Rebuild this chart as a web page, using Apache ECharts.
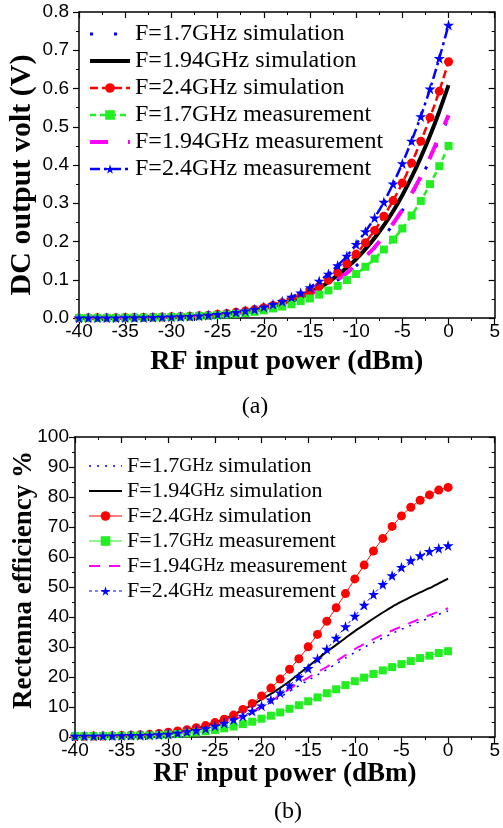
<!DOCTYPE html>
<html><head><meta charset="utf-8">
<script src="https://cdn.jsdelivr.net/npm/echarts@6/dist/echarts.min.js"></script>
<style>html,body{margin:0;padding:0;background:#fff}#c{width:503px;height:828px}</style>
</head><body><div id="c"></div><script>
// RF input power (dBm), shared by both panels
const power = [-40,-39,-38,-37,-36,-35,-34,-33,-32,-31,-30,-29,-28,-27,-26,-25,-24,-23,-22,-21,-20,-19,-18,-17,-16,-15,-14,-13,-12,-11,-10,-9,-8,-7,-6,-5,-4,-3,-2,-1,0];
const xTicks = [-40,-35,-30,-25,-20,-15,-10,-5,0,5];
const seriesNames = ['F=1.7GHz simulation','F=1.94GHz simulation','F=2.4GHz simulation','F=1.7GHz measurement','F=1.94GHz measurement','F=2.4GHz measurement'];

// (a) DC output voltage (V)
const voltSim17  = [0.0003,0.0004,0.0005,0.0006,0.0008,0.001,0.0012,0.0015,0.0019,0.0023,0.0028,0.0034,0.0042,0.0052,0.0064,0.0079,0.0098,0.012,0.015,0.02,0.025,0.030,0.036,0.043,0.051,0.061,0.071,0.084,0.099,0.116,0.136,0.158,0.183,0.212,0.245,0.281,0.322,0.366,0.414,0.468,0.525];
const voltSim194 = [0.0003,0.0004,0.0005,0.0006,0.0008,0.001,0.0013,0.0016,0.002,0.0024,0.0029,0.0036,0.0045,0.0056,0.007,0.009,0.011,0.014,0.017,0.021,0.026,0.032,0.039,0.047,0.056,0.067,0.079,0.094,0.112,0.132,0.154,0.180,0.209,0.242,0.279,0.321,0.368,0.420,0.477,0.540,0.609];
const voltSim24  = [0.0003,0.0004,0.0005,0.0006,0.0008,0.001,0.0013,0.0016,0.002,0.0025,0.003,0.0038,0.0047,0.006,0.0075,0.0095,0.012,0.015,0.018,0.022,0.027,0.033,0.040,0.048,0.058,0.070,0.083,0.099,0.119,0.142,0.167,0.197,0.229,0.266,0.307,0.353,0.405,0.462,0.524,0.593,0.670];
const voltMeas17 = [0.0002,0.0003,0.0004,0.0005,0.0006,0.0008,0.001,0.0012,0.0015,0.002,0.0026,0.0032,0.004,0.005,0.006,0.0075,0.009,0.011,0.013,0.016,0.020,0.025,0.030,0.036,0.044,0.051,0.061,0.072,0.084,0.099,0.115,0.134,0.155,0.179,0.205,0.234,0.268,0.306,0.350,0.397,0.450];
const voltMeas194= [0.0003,0.0004,0.0005,0.0006,0.0008,0.001,0.0012,0.0015,0.0019,0.0024,0.003,0.0035,0.0045,0.0055,0.007,0.009,0.011,0.014,0.017,0.021,0.026,0.031,0.037,0.044,0.052,0.062,0.073,0.086,0.101,0.118,0.138,0.160,0.185,0.215,0.247,0.283,0.325,0.370,0.420,0.475,0.530];
const voltMeas24 = [0.0003,0.0004,0.0005,0.0006,0.0008,0.001,0.0012,0.0015,0.0019,0.0024,0.003,0.0037,0.0047,0.006,0.0075,0.0095,0.012,0.015,0.019,0.023,0.029,0.036,0.044,0.055,0.066,0.080,0.097,0.115,0.137,0.162,0.193,0.226,0.262,0.303,0.351,0.404,0.463,0.527,0.599,0.679,0.766];
const voltTicks = [0,0.1,0.2,0.3,0.4,0.5,0.6,0.7,0.8];

// (b) Rectenna efficiency (%)
const effSim17  = [0.2,0.22,0.25,0.28,0.32,0.37,0.43,0.5,0.6,0.75,1.0,1.3,1.7,2.2,2.8,3.5,4.4,5.4,6.7,8.1,9.7,11.4,13.3,15.2,17.1,18.9,20.7,22.5,24.4,26.3,28.2,29.9,31.5,33.0,34.5,35.9,37.2,38.5,39.7,40.9,42.0];
const effSim194 = [0.2,0.23,0.27,0.32,0.38,0.45,0.55,0.7,0.9,1.1,1.4,1.8,2.3,3.0,3.8,4.8,6.0,7.4,9.0,10.7,12.5,14.4,16.4,18.6,21.0,23.5,26.0,28.4,30.7,33.0,35.3,37.4,39.5,41.5,43.4,45.1,46.7,48.2,49.6,51.2,52.8];
const effSim24  = [0.2,0.25,0.3,0.35,0.42,0.5,0.6,0.75,0.95,1.2,1.6,2.0,2.4,3.1,3.8,4.8,5.9,7.3,9.2,11.2,13.7,16.3,19.3,22.6,26.1,30.1,34.2,38.6,43.1,47.8,52.7,57.3,62.0,66.2,70.2,73.7,76.6,78.9,80.7,82.3,83.2];
const effMeas17 = [0.3,0.3,0.32,0.34,0.37,0.4,0.45,0.5,0.55,0.65,0.8,1.0,1.2,1.5,1.9,2.3,2.9,3.5,4.3,5.1,6.1,7.1,8.2,9.4,10.6,11.9,13.2,14.6,15.9,17.3,18.6,19.8,21.0,22.2,23.3,24.3,25.3,26.3,27.1,28.0,28.6];
const effMeas194= [0.2,0.23,0.27,0.31,0.36,0.42,0.5,0.6,0.75,0.9,1.1,1.4,1.8,2.3,2.9,3.7,4.6,5.7,7.0,8.5,10.2,12.0,14.0,16.0,18.0,19.8,21.6,23.4,25.3,27.3,29.3,31.0,32.6,34.1,35.5,36.8,38.1,39.4,40.6,41.8,42.9];
const effMeas24 = [0.3,0.32,0.35,0.4,0.45,0.5,0.55,0.6,0.7,0.8,1.0,1.35,1.8,2.25,2.85,3.7,4.65,5.85,7.0,8.65,10.45,12.45,14.75,17.2,20.0,22.9,26.1,29.3,33.0,36.8,40.3,44.0,47.6,50.9,53.8,56.6,58.8,60.5,61.9,62.9,63.8];
const effTicks = [0,10,20,30,40,50,60,70,80,90,100];

const STAR = 'path://M50,0 L61,35 L98,35 L68,57 L79,91 L50,70 L21,91 L32,57 L2,35 L39,35 Z';
const pair = arr => power.map((p,i)=>[p,arr[i]]);
const SANS = '"Liberation Sans", Arial, sans-serif';
const SERIF = '"Liberation Serif", "Times New Roman", serif';

function xAxes(grid, nameGap, nameSize) {
  return [
    {type:'value', gridIndex:grid, min:xTicks[0], max:xTicks[xTicks.length-1], interval:5,
     axisLine:{onZero:false, lineStyle:{color:'#000', width:1.5}},
     axisTick:{length:6, lineStyle:{color:'#000', width:1.2}},
     minorTick:{show:true, splitNumber:2, length:3, lineStyle:{color:'#000', width:1}},
     splitLine:{show:false},
     axisLabel:{color:'#000', fontFamily:SANS, fontSize:19, margin:4},
     name:'RF input power (dBm)', nameLocation:'middle', nameGap:nameGap,
     nameTextStyle:{color:'#000', fontFamily:SERIF, fontWeight:'bold', fontSize:nameSize}},
    {type:'value', gridIndex:grid, position:'top', min:xTicks[0], max:xTicks[xTicks.length-1], interval:5,
     axisLine:{onZero:false, lineStyle:{color:'#000', width:1.5}},
     axisTick:{inside:true, length:6, lineStyle:{color:'#000', width:1.2}},
     minorTick:{show:true, splitNumber:2, length:3, lineStyle:{color:'#000', width:1}},
     splitLine:{show:false}, axisLabel:{show:false}}
  ];
}
function yAxes(grid, ticks, fmt, margin) {
  const mn = ticks[0], mx = ticks[ticks.length-1], iv = ticks[1]-ticks[0];
  return [
    {type:'value', gridIndex:grid, min:mn, max:mx, interval:iv,
     axisLine:{show:true, onZero:false, lineStyle:{color:'#000', width:1.5}},
     axisTick:{show:true, length:6, lineStyle:{color:'#000', width:1.2}},
     minorTick:{show:true, splitNumber:2, length:3, lineStyle:{color:'#000', width:1}},
     splitLine:{show:false},
     axisLabel:{color:'#000', fontFamily:SANS, fontSize:19, margin:margin, formatter:fmt}},
    {type:'value', gridIndex:grid, position:'right', min:mn, max:mx, interval:iv,
     axisLine:{show:true, onZero:false, lineStyle:{color:'#000', width:1.5}},
     axisTick:{show:true, inside:true, length:6, lineStyle:{color:'#000', width:1.2}},
     minorTick:{show:true, splitNumber:2, length:3, lineStyle:{color:'#000', width:1}},
     splitLine:{show:false}, axisLabel:{show:false}}
  ];
}

function line(name, xi, yi, data, color, width, dash, symbol, symSize) {
  return {
    name:name, type:'line', xAxisIndex:xi, yAxisIndex:yi, data:pair(data),
    smooth:0.2, animation:false,
    symbol: symbol || 'circle', symbolSize: symSize || 1, showSymbol: !!symbol,
    lineStyle:{color:color, width:width, type:dash},
    itemStyle: symbol ? {color:color, borderWidth:0} : {color:'rgba(0,0,0,0)', borderWidth:0}
  };
}

const topNames = seriesNames;
const botNames = seriesNames.map(n => n + ' ');

const series = [
  line(topNames[0],0,0,voltSim17,'#0000ff',3,[3,21]),
  line(topNames[1],0,0,voltSim194,'#000000',4,'solid'),
  line(topNames[2],0,0,voltSim24,'#ff0000',2.5,[8,4],'circle',9),
  line(topNames[3],0,0,voltMeas17,'#22ee22',2.5,[6,4],'rect',8),
  line(topNames[4],0,0,voltMeas194,'#ff00ff',4,[18,20]),
  line(topNames[5],0,0,voltMeas24,'#0000ff',2.5,[10,4,3,4],STAR,11),

  line(botNames[0],2,2,effSim17,'#0000ff',1.5,[2,6]),
  line(botNames[1],2,2,effSim194,'#000000',2,'solid'),
  line(botNames[2],2,2,effSim24,'#ff0000',1,'solid','circle',9),
  line(botNames[3],2,2,effMeas17,'#22ee22',1,'solid','rect',8),
  line(botNames[4],2,2,effMeas194,'#ff00ff',2,[11,9]),
  line(botNames[5],2,2,effMeas24,'#0000ff',1,[3,3],STAR,11)
];

const option = {
  backgroundColor:'#fff',
  animation:false,
  grid:[
    {left:79, right:6, top:12, height:306},
    {left:75, right:2, top:437, height:300}
  ],
  xAxis:[...xAxes(0,30,28), ...xAxes(1,18,27)],
  yAxis:[...yAxes(0,voltTicks,v=>v.toFixed(1),10), ...yAxes(1,effTicks,v=>String(v),6)],
  legend:[
    {data:topNames, orient:'vertical', left:83, top:17, itemWidth:40, itemHeight:12, itemGap:3,
     selectedMode:false, lineStyle:{width:'inherit'},
     textStyle:{color:'#000', fontFamily:SERIF, fontSize:24, lineHeight:24}},
    {data:botNames, orient:'vertical', left:83, top:450, itemWidth:33, itemHeight:12, itemGap:3,
     selectedMode:false, lineStyle:{width:'inherit'},
     formatter: n => { const m = n.trim().match(/^(F=[\d.]+)GHz (.*)$/); return m[1] + '{g|GHz} ' + m[2]; },
     textStyle:{color:'#000', fontFamily:SERIF, fontSize:22, lineHeight:22,
       rich:{g:{fontFamily:SERIF, fontSize:18, color:'#000'}}}}
  ],
  graphic:[
    {type:'text', x:22, y:175, rotation:Math.PI/2,
     style:{text:'DC output volt (V)', font:'bold 30px ' + SERIF, fill:'#000', align:'center', verticalAlign:'middle'}},
    {type:'text', x:24, y:580, rotation:Math.PI/2,
     style:{text:'Rectenna efficiency %', font:'bold 27px ' + SERIF, fill:'#000', align:'center', verticalAlign:'middle'}},
    {type:'text', x:255, y:407,
     style:{text:'(a)', font:'24px ' + SERIF, fill:'#000', align:'center', verticalAlign:'middle'}},
    {type:'text', x:288, y:812,
     style:{text:'(b)', font:'24px ' + SERIF, fill:'#000', align:'center', verticalAlign:'middle'}}
  ],
  series: series
};
const chart = echarts.init(document.getElementById('c'), null, {renderer:'canvas'});
chart.setOption(option);
</script></body></html>
